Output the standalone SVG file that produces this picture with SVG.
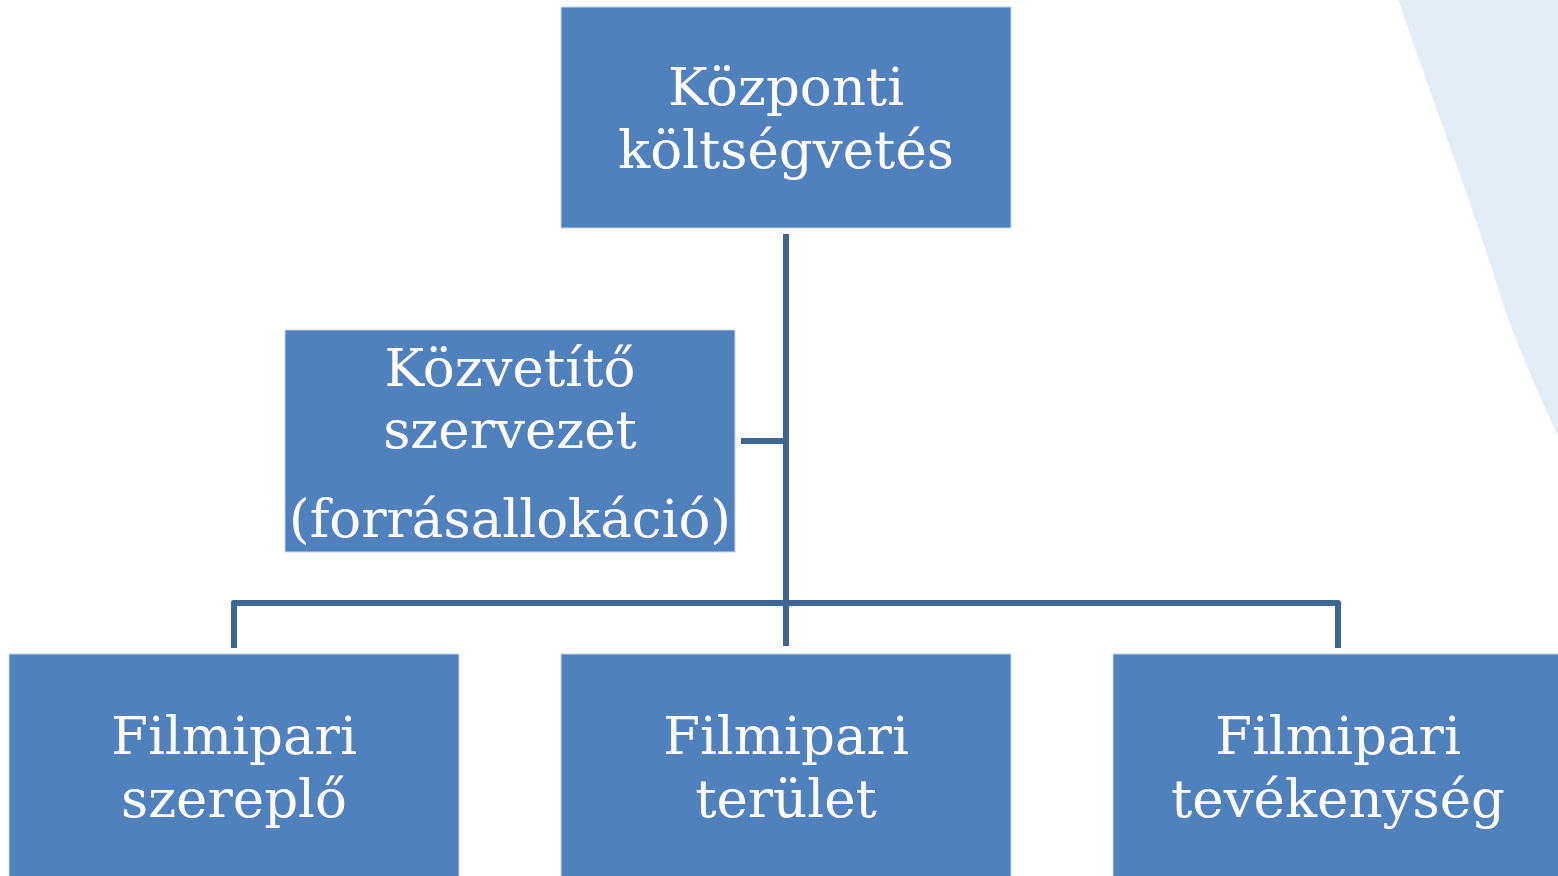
<svg xmlns="http://www.w3.org/2000/svg" width="1558" height="876" viewBox="0 0 1558 876">
<style>
.box{fill:#4F81BD;stroke:#c8d6e8;stroke-width:1}
.t{font-family:"DejaVu Serif","Liberation Serif",serif;font-size:53px;fill:#ffffff;text-anchor:middle}
.c{stroke:#3F6595;stroke-width:6;fill:none;stroke-linejoin:round}
</style>
<rect width="1558" height="876" fill="#ffffff"/>
<path d="M1397,0 C1430,100 1470,200 1500,300 C1515,345 1535,390 1558,440 L1558,0 Z" fill="#E4ECF6"/>
<path d="M1397,0 C1430,100 1470,200 1500,300 C1515,345 1535,390 1558,440" fill="none" stroke="#ffffff" stroke-width="3"/>
<g id="connectors">
<path class="c" d="M786,234 V646"/>
<path class="c" d="M741,441 H786"/>
<path class="c" d="M234,648 V603 H1338 V648"/>
</g>
<g id="n-kozponti">
<rect class="box" x="561" y="7" width="450" height="221"/>
<text class="t" x="786" y="105">Központi</text>
<text class="t" x="786" y="168">költségvetés</text>
</g>
<g id="n-kozvetito">
<rect class="box" x="285" y="330" width="450" height="222"/>
<text class="t" x="510" y="386">Közvetítő</text>
<text class="t" x="510" y="448">szervezet</text>
<text class="t" x="510" y="537">(forrásallokáció)</text>
</g>
<g id="n-szereplo">
<rect class="box" x="9" y="654" width="450" height="230"/>
<text class="t" x="234" y="754">Filmipari</text>
<text class="t" x="234" y="817">szereplő</text>
</g>
<g id="n-terulet">
<rect class="box" x="561" y="654" width="450" height="230"/>
<text class="t" x="786" y="754">Filmipari</text>
<text class="t" x="786" y="817">terület</text>
</g>
<g id="n-tevekenyseg">
<rect class="box" x="1113" y="654" width="450" height="230"/>
<text class="t" x="1338" y="754">Filmipari</text>
<text class="t" x="1338" y="817">tevékenység</text>
</g>
</svg>
